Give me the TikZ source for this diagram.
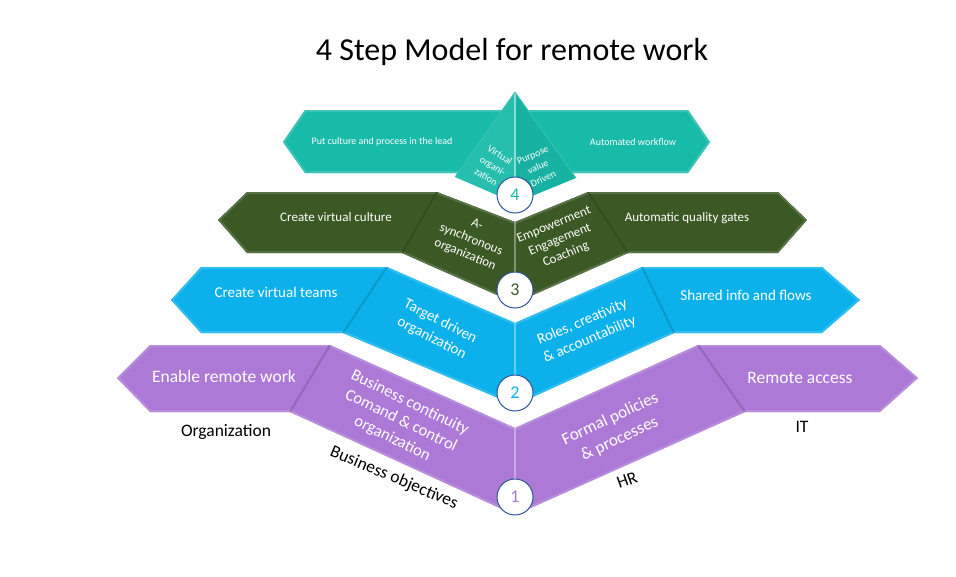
\documentclass[tikz,border=0pt]{standalone}
\usepackage{fontspec}
\setmainfont{Carlito}
\begin{document}
\begin{tikzpicture}[x=1pt,y=-1pt]
\definecolor{cTeal}{RGB}{24,186,168}
\definecolor{cGreen}{RGB}{58,89,37}
\definecolor{cBlue}{RGB}{12,177,236}
\definecolor{cPurple}{RGB}{172,121,214}
\definecolor{cRing}{RGB}{47,85,151}
\tikzset{
  wt/.style={text=white, align=center, inner sep=0pt},
  bt/.style={text=black, align=center, inner sep=0pt},
  numc/.style={circle, fill=white, draw=cRing, line width=1pt, minimum size=36pt, inner sep=0pt, font=\fontsize{18}{18}\selectfont},
}
\newcommand\drawlayer[2]{%
  \fill[#2] (#1-1)--(#1-2)--(#1-3)--(#1-4)--(#1-5)--(#1-6)--(#1-7)--(#1-8)--(#1-9)--(#1-10)--(#1-11)--(#1-12)--cycle;
  \begin{scope}
    \clip (#1-1)--(#1-2)--(#1-3)--(#1-4)--(#1-5)--(#1-6)--(#1-7)--(#1-8)--(#1-9)--(#1-10)--(#1-11)--(#1-12)--cycle;
    \draw[#2!85!white, line width=4pt, line join=round] (#1-1)--(#1-2)--(#1-3)--(#1-4)--(#1-5)--(#1-6)--(#1-7)--(#1-8)--(#1-9)--(#1-10)--(#1-11)--(#1-12)--cycle;
    \draw[#2!70!black, opacity=.45, line width=2pt] (#1-3)--(#1-11) (#1-5)--(#1-9);
    \draw[#2!55!white, opacity=.8, line width=2.5pt] (#1-4)--(#1-10);
  \end{scope}
}
\useasboundingbox (0,0) rectangle (956,576);
\fill[white] (0,0) rectangle (956,576);

% title
\node[inner sep=0pt] (title) at (512,52) {\fontsize{32}{38}\selectfont 4 Step Model for remote work};

% ---------- layer 1 purple
\coordinate (p-1) at (117,378); \coordinate (p-2) at (150,345); \coordinate (p-3) at (330,345);
\coordinate (p-4) at (515,428); \coordinate (p-5) at (698,345); \coordinate (p-6) at (880,345);
\coordinate (p-7) at (918,378); \coordinate (p-8) at (880,412); \coordinate (p-9) at (745,412);
\coordinate (p-10) at (515,515); \coordinate (p-11) at (290,412); \coordinate (p-12) at (150,412);
\drawlayer{p}{cPurple}

% ---------- layer 2 blue
\coordinate (b-1) at (171,300); \coordinate (b-2) at (201,267); \coordinate (b-3) at (387,267);
\coordinate (b-4) at (515,323); \coordinate (b-5) at (642,267); \coordinate (b-6) at (822,267);
\coordinate (b-7) at (860,300); \coordinate (b-8) at (822,333); \coordinate (b-9) at (674,333);
\coordinate (b-10) at (515,405); \coordinate (b-11) at (343,333); \coordinate (b-12) at (201,333);
\drawlayer{b}{cBlue}

% ---------- layer 3 green
\coordinate (g-1) at (218,220); \coordinate (g-2) at (247,192); \coordinate (g-3) at (437,192);
\coordinate (g-4) at (515,222); \coordinate (g-5) at (588,192); \coordinate (g-6) at (778,192);
\coordinate (g-7) at (807,220); \coordinate (g-8) at (778,253); \coordinate (g-9) at (628,253);
\coordinate (g-10) at (515,303); \coordinate (g-11) at (402,253); \coordinate (g-12) at (247,253);
\drawlayer{g}{cGreen}

% ---------- layer 4 teal
\fill[cTeal] (283,142)--(305,110)--(688,110)--(710,142)--(688,173)--(305,173)--cycle;
\begin{scope}
  \clip (283,142)--(305,110)--(688,110)--(710,142)--(688,173)--(305,173)--cycle;
  \draw[cTeal!85!white, line width=4pt, line join=round] (283,142)--(305,110)--(688,110)--(710,142)--(688,173)--(305,173)--cycle;
\end{scope}
\coordinate (apex) at (515,92); \coordinate (pl) at (455,177);
\coordinate (pf) at (515,203); \coordinate (pr) at (576,178);
\fill[cTeal!94!white] (apex)--(pl)--(pf)--cycle;
\fill[cTeal!96!black] (apex)--(pf)--(pr)--cycle;
\draw[cTeal!50!white, line width=2pt] (apex)--(pf);
\draw[cTeal!85!white, line width=.8pt] (apex)--(pl) (apex)--(pr);

% ---------- texts layer 4
\node[wt, font=\fontsize{10}{12}\selectfont] (t4l) at (382,142) {Put culture and process in the lead};
\node[wt, font=\fontsize{10}{12}\selectfont] (t4r) at (633,142) {Automated workflow};
\node[wt, font=\fontsize{10}{13}\selectfont, rotate=-32] (t4a) at (493,166) {Virtual\\organi-\\zation};
\node[wt, font=\fontsize{10}{13}\selectfont, rotate=24] (t4b) at (538,167) {Purpose\\value\\Driven};

% ---------- texts layer 3
\node[wt, font=\fontsize{13}{15}\selectfont] (t3l) at (336,217) {Create virtual culture};
\node[wt, font=\fontsize{13}{15}\selectfont] (t3r) at (687,218) {Automatic quality gates};
\node[wt, font=\fontsize{13}{16}\selectfont, rotate=-22] (t3a) at (471,240) {A-\\synchronous\\organization};
\node[wt, font=\fontsize{13}{16}\selectfont, rotate=22] (t3b) at (560,240) {Empowerment\\Engagement\\Coaching};

% ---------- texts layer 2
\node[wt, font=\fontsize{15}{18}\selectfont] (t2l) at (276,292) {Create virtual teams};
\node[wt, font=\fontsize{15}{18}\selectfont] (t2r) at (746,295) {Shared info and flows};
\node[wt, font=\fontsize{15}{19}\selectfont, rotate=-27] (t2a) at (436,330) {Target driven\\organization};
\node[wt, font=\fontsize{15}{19}\selectfont, rotate=23] (t2b) at (586,331) {Roles, creativity\\\& accountability};

% ---------- texts layer 1
\node[wt, font=\fontsize{17.5}{21}\selectfont] (t1l) at (224,376) {Enable remote work};
\node[wt, font=\fontsize{17.5}{21}\selectfont] (t1r) at (800,378) {Remote access};
\node[wt, font=\fontsize{16.5}{20}\selectfont, rotate=-26] (t1a) at (401,421) {Business continuity\\Comand \& control\\organization};
\node[wt, font=\fontsize{17}{22}\selectfont, rotate=25] (t1b) at (615,429) {Formal policies\\\& processes};

% ---------- black labels
\node[bt, font=\fontsize{17.5}{21}\selectfont] (lorg) at (226,432) {Organization};
\node[bt, font=\fontsize{17.5}{21}\selectfont] (lit) at (802,427) {IT};
\node[bt, font=\fontsize{17.5}{21}\selectfont, rotate=-23] (lbo) at (394,478) {Business objectives};
\node[bt, font=\fontsize{17.5}{21}\selectfont, rotate=20] (lhr) at (627,480) {HR};

% ---------- number circles
\node[numc, text=cTeal] (n4) at (515,195) {4};
\node[numc, text=cGreen] (n3) at (515,290) {3};
\node[numc, text=cBlue] (n2) at (515,393) {2};
\node[numc, text=cPurple] (n1) at (515,497) {1};
\end{tikzpicture}
\end{document}
